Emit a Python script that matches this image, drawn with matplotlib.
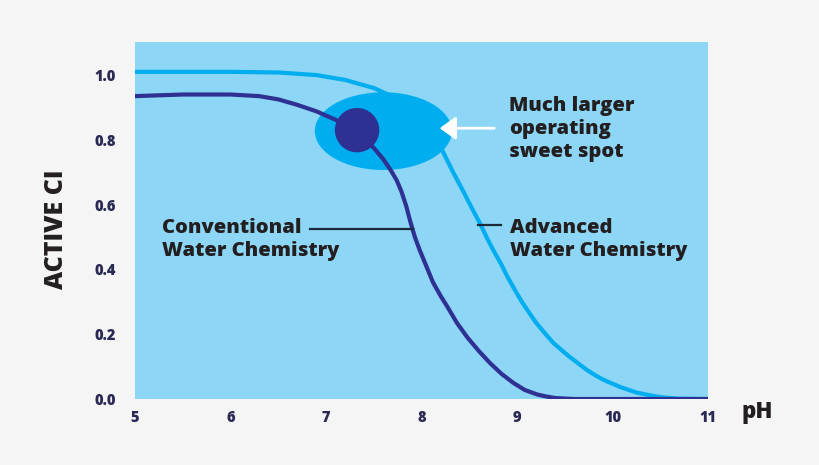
import matplotlib.pyplot as plt
from matplotlib.patches import Ellipse

plt.rcParams['font.family'] = ['Open Sans', 'DejaVu Sans']

conv_ph = [5.0, 5.5, 6.0, 6.3, 6.5, 6.7, 6.9, 7.1, 7.3, 7.5, 7.6, 7.68, 7.74, 7.79, 7.84, 7.88,
           7.93, 7.98, 8.05, 8.12, 8.2, 8.27, 8.37, 8.48, 8.6, 8.72, 8.84, 8.96, 9.08, 9.21,
           9.3, 9.4, 9.6, 10.0, 11.0]
conv_ci = [0.935, 0.94, 0.94, 0.935, 0.925, 0.908, 0.888, 0.862, 0.83, 0.775, 0.74, 0.705,
           0.675, 0.64, 0.595, 0.55, 0.5, 0.46, 0.41, 0.36, 0.318, 0.285, 0.235, 0.19, 0.148,
           0.11, 0.077, 0.05, 0.028, 0.014, 0.008, 0.003, 0.0, 0.0, 0.0]
adv_ph = [5.0, 6.0, 6.5, 6.9, 7.2, 7.5, 7.8, 7.9, 8.0, 8.1, 8.17, 8.23, 8.33, 8.43, 8.52, 8.61,
          8.68, 8.75, 8.83, 8.9, 8.98, 9.05, 9.13, 9.2, 9.3, 9.38, 9.47, 9.55, 9.64, 9.73,
          9.82, 9.9, 10.0, 10.08, 10.17, 10.25, 10.33, 10.42, 10.5, 10.6, 10.7, 11.0]
adv_ci = [1.01, 1.01, 1.008, 1.0, 0.985, 0.96, 0.92, 0.9, 0.87, 0.83, 0.795, 0.76, 0.7, 0.645,
          0.593, 0.543, 0.5, 0.46, 0.418, 0.377, 0.335, 0.3, 0.265, 0.235, 0.2, 0.173, 0.15,
          0.13, 0.11, 0.09, 0.073, 0.06, 0.047, 0.037, 0.028, 0.02, 0.015, 0.01, 0.006, 0.003,
          0.001, 0.0]
xticks = [5, 6, 7, 8, 9, 10, 11]
yticks = [0.0, 0.2, 0.4, 0.6, 0.8, 1.0]

bg = '#f5f5f5'
panel = '#8dd6f6'
cyan = '#00aeef'
navy = '#2e3192'
ink = '#231f20'

fig = plt.figure(figsize=(8.2, 4.65), dpi=100, facecolor=bg)
ax = fig.add_axes([0.1646, 0.1419, 0.699, 0.7677])
ax.set_facecolor(panel)
ax.set_xlim(5, 11)
ax.set_ylim(0, 1.102)

ax.add_patch(Ellipse((7.60, 0.827), 1.435, 0.24, color=cyan, zorder=2, lw=0))
ax.plot(adv_ph, adv_ci, color=cyan, lw=3, zorder=3, solid_capstyle='butt', solid_joinstyle='round')
ax.plot(conv_ph, conv_ci, color=navy, lw=3, zorder=3, solid_capstyle='butt', solid_joinstyle='round')
ax.add_patch(Ellipse((7.325, 0.83), 0.465, 0.137, color=navy, zorder=4, lw=0))

ax.annotate('', xy=(8.16, 0.836), xytext=(8.79, 0.836),
            arrowprops=dict(arrowstyle='-|>,head_length=0.7,head_width=0.5',
                            color='white', lw=2, mutation_scale=14), zorder=5)

tstyle = dict(fontsize=14.5, fontweight='heavy', color=ink, linespacing=1.2, va='center', ha='left')
ax.text(8.92, 0.834, 'Much larger\noperating\nsweet spot', **tstyle)
ax.text(5.28, 0.493, 'Conventional\nWater Chemistry', **tstyle)
ax.text(8.93, 0.493, 'Advanced\nWater Chemistry', **tstyle)
ax.plot([6.83, 7.91], [0.525, 0.525], color='#1c2b3a', lw=1.6, zorder=3)
ax.plot([8.59, 8.83], [0.537, 0.537], color='#1c2b3a', lw=1.6, zorder=3)

for s in ax.spines.values():
    s.set_visible(False)
ax.set_xticks(xticks)
ax.set_xticklabels([str(t) for t in xticks])
ax.set_yticks(yticks)
ax.set_yticklabels(['%.1f' % t for t in yticks])
ax.tick_params(length=0, labelsize=10.5, labelcolor='#2a2a55')
ax.tick_params(axis='y', pad=14)
ax.tick_params(axis='x', pad=8)
for lab in ax.get_xticklabels() + ax.get_yticklabels():
    lab.set_fontweight('heavy')

fig.text(0.0695, 0.5075, 'ACTIVE CI', rotation=90, fontsize=18, fontweight='heavy',
         color=ink, ha='center', va='center')
fig.text(0.923, 0.114, 'pH', fontsize=16, fontweight='heavy', color=ink, ha='center', va='center')

fig.savefig('out.png', dpi=100, facecolor=bg)
